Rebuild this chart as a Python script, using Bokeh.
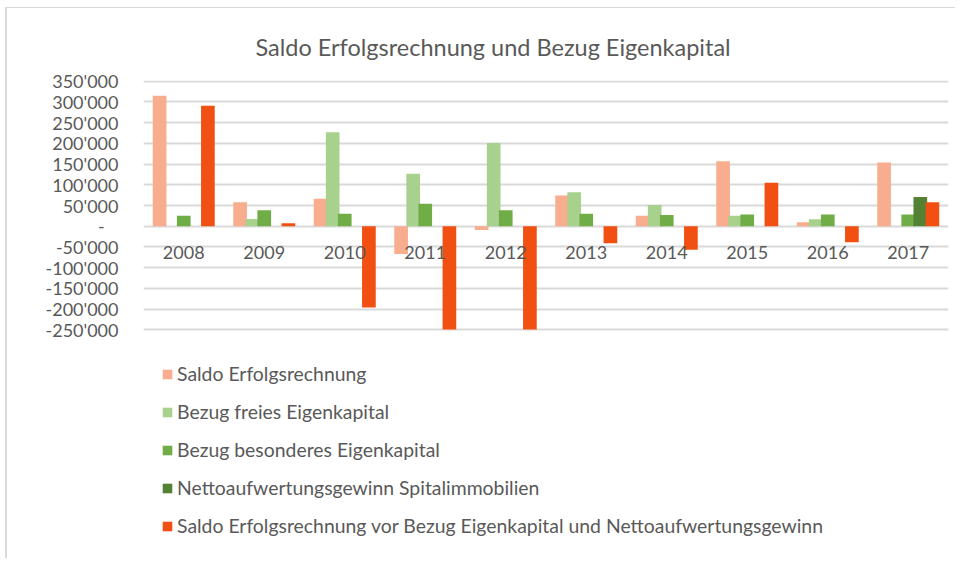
from bokeh.plotting import figure
from bokeh.models import (ColumnDataSource, FactorRange, FixedTicker, Legend,
                          LegendItem, Range1d)
from bokeh.core.properties import value
from bokeh.transform import dodge
from bokeh.embed import file_html
from bokeh.resources import INLINE

years = ["2008", "2009", "2010", "2011", "2012", "2013", "2014", "2015", "2016", "2017"]
saldo = [315000, 58000, 66000, -67000, -9000, 74000, 25000, 157000, 9600, 154000]
freies = [0, 17600, 226500, 126800, 201000, 82000, 51400, 25500, 16900, 0]
besonderes = [25500, 38500, 30400, 54500, 38500, 30400, 27000, 28000, 28000, 28000]
netto = [0, 0, 0, 0, 0, 0, 0, 0, 0, 70600]
vor_bezug = [290600, 7000, -196000, -249000, -249000, -41000, -57000, 105000, -38600, 57800]

series_names = [
    "Saldo Erfolgsrechnung",
    "Bezug freies Eigenkapital",
    "Bezug besonderes Eigenkapital",
    "Nettoaufwertungsgewinn Spitalimmobilien",
    "Saldo Erfolgsrechnung vor Bezug Eigenkapital und Nettoaufwertungsgewinn",
]
series_cols = ["saldo", "freies", "besonderes", "netto", "vor_bezug"]
colors = ["#F8AD8E", "#A9D18E", "#70AD47", "#548235", "#F25012"]
offsets = [-0.3, -0.15, 0.0, 0.15, 0.3]

tick_values = [-250000, -200000, -150000, -100000, -50000, 0, 50000, 100000,
               150000, 200000, 250000, 300000, 350000]
tick_labels = ["-250'000", "-200'000", "-150'000", "-100'000", "-50'000",
               "-\u00a0\u00a0\u00a0", "50'000", "100'000", "150'000", "200'000",
               "250'000", "300'000", "350'000"]

title_text = "Saldo Erfolgsrechnung und Bezug Eigenkapital"

FONT = "Lato"
TXT = "#595959"
GRID = "#d9d9d9"

source = ColumnDataSource(dict(year=years, saldo=saldo, freies=freies,
                               besonderes=besonderes, netto=netto,
                               vor_bezug=vor_bezug,
                               zero=[0] * len(years)))

# frame spans the plot and the legend area below it; grid lines only at ticks
p = figure(width=950, height=551, x_range=FactorRange(*years),
           y_range=Range1d(-803848, 351500),
           output_backend="svg", toolbar_location=None,
           min_border_left=136, min_border_right=9,
           min_border_top=72, min_border_bottom=0)
p.styles = {"border-left": "2px solid #d9d9d9", "border-top": "1px solid #d9d9d9",
            "margin-left": "5px", "margin-top": "7px"}
p.outline_line_color = None
p.background_fill_color = "white"
p.border_fill_color = "white"

renderers = []
for col, color, off in zip(series_cols, colors, offsets):
    r = p.vbar(x=dodge("year", off, range=p.x_range), top=col, bottom=0,
               width=0.17, source=source, fill_color=color, line_color=None)
    renderers.append(r)

# category labels just below the zero line
p.text(x="year", y="zero", text="year", source=source, y_offset=26,
       text_align="center", text_baseline="middle",
       text_font=value(FONT), text_font_size="18px", text_color=TXT)

# axes
p.xaxis.visible = False
p.yaxis.ticker = FixedTicker(ticks=tick_values)
p.yaxis.major_label_overrides = {v: l for v, l in zip(tick_values, tick_labels)}
p.yaxis.axis_line_color = None
p.yaxis.major_tick_line_color = None
p.yaxis.minor_tick_line_color = None
p.yaxis.major_label_standoff = 19
p.yaxis.major_label_text_font = FONT
p.yaxis.major_label_text_font_size = "18px"
p.yaxis.major_label_text_color = TXT

p.xgrid.grid_line_color = None
p.ygrid.ticker = FixedTicker(ticks=tick_values)
p.ygrid.grid_line_color = GRID
p.ygrid.grid_line_width = 1.8

# title
p.title.text = title_text
p.title.align = "left"
p.title.offset = 112
p.title.standoff = 39
p.title.text_font = FONT
p.title.text_font_size = "23.5px"
p.title.text_font_style = "normal"
p.title.text_color = TXT

legend = Legend(items=[LegendItem(label=n, renderers=[r]) for n, r in zip(series_names, renderers)],
                location=(18, 22), orientation="vertical",
                padding=0, margin=0, spacing=15,
                glyph_width=12, glyph_height=12, label_height=20,
                label_standoff=4, label_text_font=FONT,
                label_text_font_size="19.4px", label_text_color=TXT,
                border_line_color=None, background_fill_alpha=0)
p.add_layout(legend, "center")

open("out.html", "w").write(file_html(p, INLINE))
